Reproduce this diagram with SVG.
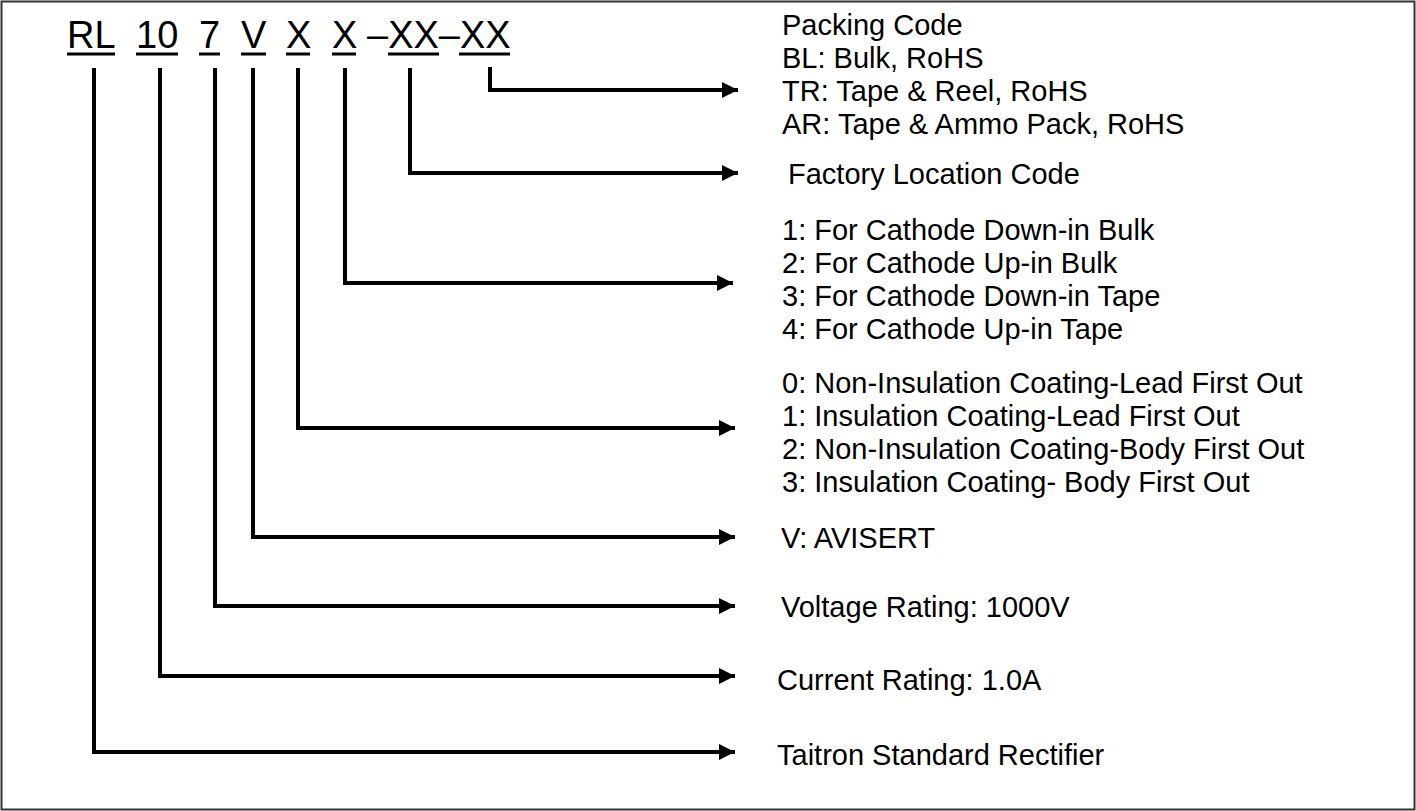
<svg xmlns="http://www.w3.org/2000/svg" width="1416" height="811" viewBox="0 0 1416 811">
<style>
.t{font-family:"Liberation Sans",Arial,sans-serif;font-size:29px;fill:#000}
.h{font-family:"Liberation Sans",Arial,sans-serif;font-size:38px;fill:#000}
.c{fill:none;stroke:#000;stroke-width:4;marker-end:url(#ah)}
.u{stroke:#000;stroke-width:3}
</style>
<defs>
<marker id="ah" markerUnits="userSpaceOnUse" markerWidth="16" markerHeight="16" refX="16" refY="8" orient="auto">
<path d="M0,0 L16,8 L0,16 Z" fill="#000"/>
</marker>
</defs>
<rect x="1.5" y="1.5" width="1413" height="808" fill="#fff" stroke="#333" stroke-width="2"/>
<g id="code">
<text class="h" x="67" y="48">RL</text>
<text class="h" x="136" y="48">10</text>
<text class="h" x="199" y="48">7</text>
<text class="h" x="241" y="48">V</text>
<text class="h" x="286" y="48">X</text>
<text class="h" x="332" y="48">X</text>
<text class="h" x="367" y="48">–XX–XX</text>
<line class="u" x1="67" y1="54" x2="115" y2="54"/>
<line class="u" x1="136" y1="54" x2="178" y2="54"/>
<line class="u" x1="199" y1="54" x2="220" y2="54"/>
<line class="u" x1="241" y1="54" x2="266" y2="54"/>
<line class="u" x1="286" y1="54" x2="310" y2="54"/>
<line class="u" x1="332" y1="54" x2="356" y2="54"/>
<line class="u" x1="388" y1="54" x2="439" y2="54"/>
<line class="u" x1="459" y1="54" x2="510" y2="54"/>
</g>
<g id="connectors">
<path class="c" d="M490,67 V90 H738"/>
<path class="c" d="M410,68 V173 H738"/>
<path class="c" d="M345,68 V283 H733"/>
<path class="c" d="M298,68 V428 H735"/>
<path class="c" d="M253,68 V537 H735"/>
<path class="c" d="M215,68 V606 H735"/>
<path class="c" d="M160,68 V676 H735"/>
<path class="c" d="M94,68 V752 H735"/>
</g>
<g id="packing">
<text class="t" x="782" y="35">Packing Code</text>
<text class="t" x="782" y="68">BL: Bulk, RoHS</text>
<text class="t" x="782" y="101">TR: Tape &amp; Reel, RoHS</text>
<text class="t" x="782" y="134">AR: Tape &amp; Ammo Pack, RoHS</text>
</g>
<g id="factory">
<text class="t" x="788" y="184">Factory Location Code</text>
</g>
<g id="cathode">
<text class="t" x="782" y="240">1: For Cathode Down-in Bulk</text>
<text class="t" x="782" y="273">2: For Cathode Up-in Bulk</text>
<text class="t" x="782" y="306">3: For Cathode Down-in Tape</text>
<text class="t" x="782" y="339">4: For Cathode Up-in Tape</text>
</g>
<g id="coating">
<text class="t" x="782" y="393">0: Non-Insulation Coating-Lead First Out</text>
<text class="t" x="782" y="426">1: Insulation Coating-Lead First Out</text>
<text class="t" x="782" y="459">2: Non-Insulation Coating-Body First Out</text>
<text class="t" x="782" y="492">3: Insulation Coating- Body First Out</text>
</g>
<g id="avisert">
<text class="t" x="781" y="548">V: AVISERT</text>
</g>
<g id="voltage">
<text class="t" x="781" y="617">Voltage Rating: 1000V</text>
</g>
<g id="current">
<text class="t" x="777" y="690">Current Rating: 1.0A</text>
</g>
<g id="taitron">
<text class="t" x="777" y="765">Taitron Standard Rectifier</text>
</g>
</svg>
